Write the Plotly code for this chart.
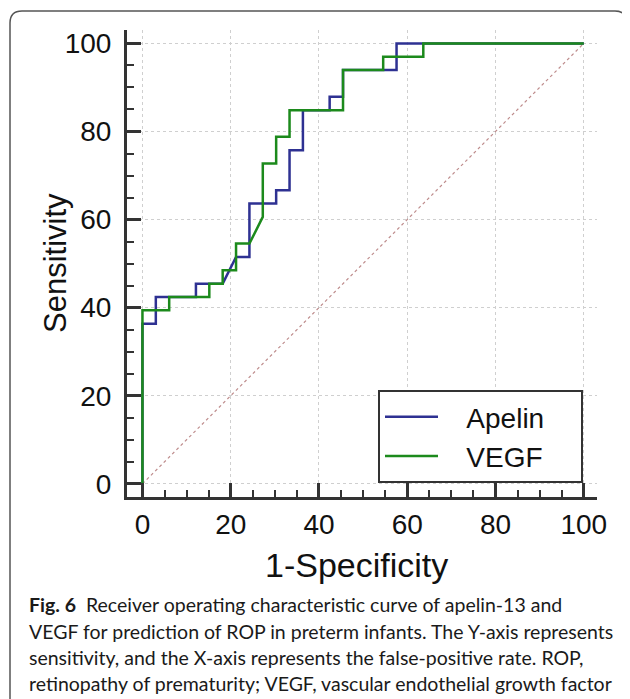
import plotly.graph_objects as go

# ---------------- data ----------------
apelin_fpr = [0, 0, 3.03, 3.03, 12.12, 12.12, 18.18, 21.21, 24.24, 24.24, 30.30, 30.30,
              33.33, 33.33, 36.36, 36.36, 42.42, 42.42, 45.45, 45.45, 57.58, 57.58, 100]
apelin_sens = [0, 36.36, 36.36, 42.42, 42.42, 45.45, 45.45, 51.52, 51.52, 63.64, 63.64, 66.67,
               66.67, 75.76, 75.76, 84.85, 84.85, 87.88, 87.88, 93.94, 93.94, 100, 100]

vegf_fpr = [0, 0, 6.06, 6.06, 15.15, 15.15, 18.18, 18.18, 21.21, 21.21, 24.24, 27.27, 27.27,
            30.30, 30.30, 33.33, 33.33, 45.45, 45.45, 54.55, 54.55, 63.64, 63.64, 100]
vegf_sens = [0, 39.39, 39.39, 42.42, 42.42, 45.45, 45.45, 48.48, 48.48, 54.55, 54.55, 60.61, 72.73,
             72.73, 78.79, 78.79, 84.85, 84.85, 93.94, 93.94, 96.97, 96.97, 100, 100]

ref_x = [0, 100]
ref_y = [0, 100]

tick_vals = [0, 20, 40, 60, 80, 100]
tick_text = ["0", "20", "40", "60", "80", "100"]

x_title = "1-Specificity"
y_title = "Sensitivity"
series_names = ["Apelin", "VEGF"]

caption_lines = [
    "<b>Fig. 6</b>  Receiver operating characteristic curve of apelin-13 and",
    "VEGF for prediction of ROP in preterm infants. The Y-axis represents",
    "sensitivity, and the X-axis represents the false-positive rate. ROP,",
    "retinopathy of prematurity; VEGF, vascular endothelial growth factor",
]

# ---------------- layout constants ----------------
OFF = 8                      # page body margin
W, H = 630 - OFF, 699 - OFF
L, R, T, B = 119, 33, 22, 202
PW, PH = W - L - R, H - T - B


def sx(px):
    """screen pixel x -> paper x"""
    return (px - OFF - L) / PW


def sy(py):
    """screen pixel y -> paper y"""
    return (H - B - (py - OFF)) / PH


BLUE = "#2E3192"
GREEN = "#1C8A1C"
AXIS = "#333333"
FONT = "Liberation Sans, Arial, sans-serif"
NB = "\u00a0"

fig = go.Figure()
fig.add_trace(go.Scatter(x=ref_x, y=ref_y, mode="lines", showlegend=False,
                         line=dict(color="#BE8C8C", width=1.2, dash="dot"), hoverinfo="skip"))
fig.add_trace(go.Scatter(x=apelin_fpr, y=apelin_sens, mode="lines",
                         name=NB * 3 + series_names[0] + NB * 4,
                         line=dict(color=BLUE, width=2.5)))
fig.add_trace(go.Scatter(x=vegf_fpr, y=vegf_sens, mode="lines",
                         name=NB * 3 + series_names[1] + NB * 4,
                         line=dict(color=GREEN, width=2.5)))

axis_common = dict(
    tickvals=tick_vals, ticktext=tick_text,
    ticks="inside", ticklen=14, tickwidth=2.5, tickcolor=AXIS,
    showline=True, linewidth=3, linecolor=AXIS, mirror=False,
    showgrid=True, gridcolor="#CFCFCF", gridwidth=1, griddash="dot",
    zeroline=False,
    tickfont=dict(family=FONT, size=28, color="#111111"),
    minor=dict(dtick=5, tick0=0, ticks="inside", ticklen=7, tickwidth=2, tickcolor=AXIS, showgrid=False),
)

fig.update_xaxes(range=[-3.5, 103.0], ticklabelstandoff=0, **axis_common)
fig.update_yaxes(range=[-3.0, 103.05], ticklabelstandoff=7, **axis_common)

annotations = [
    dict(text=x_title, xref="paper", yref="paper", x=sx(356), y=sy(565),
         xanchor="center", yanchor="middle", showarrow=False,
         font=dict(family=FONT, size=34, color="#111111")),
    dict(text=y_title, xref="paper", yref="paper", x=sx(55), y=sy(263),
         xanchor="center", yanchor="middle", showarrow=False, textangle=-90,
         font=dict(family=FONT, size=31, color="#111111")),
]
caption_y = [604, 631, 657, 683]
for txt, cy in zip(caption_lines, caption_y):
    annotations.append(dict(text=txt, xref="paper", yref="paper", x=sx(27), y=sy(cy),
                            xanchor="left", yanchor="middle", showarrow=False,
                            font=dict(family="Lato, Open Sans, sans-serif", size=19.5, color="#1a1a1a")))

# rounded frame around figure
x0, x1, y0, y1, r = sx(10), sx(627), sy(11), sy(720), 12
rx, ry = r / PW, r / PH
frame = (f"M {x0},{y1} L {x0},{y0 - ry} Q {x0},{y0} {x0 + rx},{y0} "
         f"L {x1 - rx},{y0} Q {x1},{y0} {x1},{y0 - ry} L {x1},{y1}")

fig.update_layout(
    width=W, height=H,
    margin=dict(l=L, r=R, t=T, b=B, autoexpand=False),
    paper_bgcolor="white", plot_bgcolor="white",
    font=dict(family=FONT, color="#111111"),
    showlegend=True,
    legend=dict(x=sx(583), y=sy(483), xanchor="right", yanchor="bottom",
                bgcolor="white", bordercolor=AXIS, borderwidth=2,
                font=dict(family=FONT, size=28, color="#111111"),
                itemwidth=53, tracegroupgap=0),
    annotations=annotations,
    shapes=[dict(type="path", path=frame, xref="paper", yref="paper",
                 line=dict(color="#555555", width=1.5), layer="above")],
)

fig.write_html("out.html")
